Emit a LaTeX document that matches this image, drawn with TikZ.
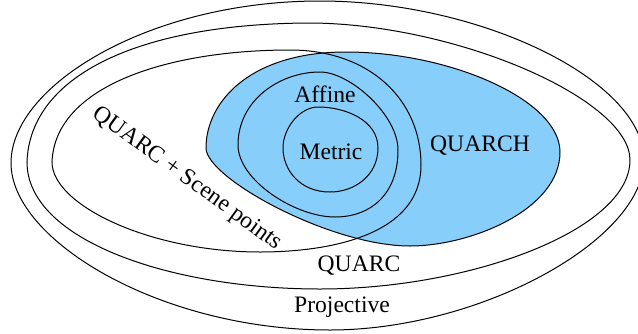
\documentclass[tikz,border=0pt]{standalone}
\usepackage{fontspec}
\setmainfont{Liberation Serif}
\usepackage{tikz}
\definecolor{quarchblue}{RGB}{135,206,250}

\begin{document}
\begin{tikzpicture}[x=0.5pt,y=-0.5pt]
	\tikzstyle{every node}+=[inner sep=0pt, font=\fontsize{11.8}{14}\selectfont]
	\tikzstyle{region}=[draw=black, line width=0.5pt]
	\useasboundingbox (0,0) rectangle (638,333);
	% Projective
	\draw [region] (11,163) .. controls (11,85) and (150,1) .. (320,1)
		.. controls (480,1) and (644,80) .. (644,160)
		.. controls (644,240) and (480,330) .. (330,330)
		.. controls (160,330) and (11,240) .. cycle;
	% QUARC
	\draw [region] (27,162) .. controls (30,75) and (140,23) .. (313,23)
		.. controls (460,25) and (630,100) .. (630,160)
		.. controls (630,230) and (470,289) .. (320,289)
		.. controls (170,289) and (27,240) .. cycle;
	% QUARCH
	\filldraw [region, fill=quarchblue] (206,148) .. controls (206,102) and (250,52) .. (346,52)
		.. controls (450,52) and (560,100) .. (560,152)
		.. controls (560,210) and (470,246) .. (410,246)
		.. controls (330,246) and (206,178) .. cycle;
	% QUARC + Scene points
	\draw [region] (52,162) .. controls (55,85) and (170,50) .. (290,50)
		.. controls (370,50) and (421,100) .. (421,165)
		.. controls (421,235) and (330,252) .. (260,252)
		.. controls (150,252) and (52,205) .. cycle;
	% Affine
	\draw [region] (238,145) .. controls (238,100) and (280,72) .. (320,72)
		.. controls (350,72) and (398,115) .. (398,150)
		.. controls (398,195) and (370,217) .. (335,217)
		.. controls (295,217) and (238,180) .. cycle;
	% Metric
	\draw [region] (283,148) .. controls (283,128) and (300,107) .. (318,107)
		.. controls (345,107) and (378,120) .. (378,148)
		.. controls (378,175) and (355,192) .. (330,192)
		.. controls (300,192) and (283,170) .. cycle;
	\node (projective) at (342,307) {Projective};
	\node (quarc) at (359,266) {QUARC};
	\node (quarch) at (480,146) {QUARCH};
	\node (affine) at (325,94) {Affine};
	\node (metric) at (331,152) {Metric};
	\node (scene) [rotate=-36] at (187,179) {QUARC + Scene points};
\end{tikzpicture}
\end{document}
